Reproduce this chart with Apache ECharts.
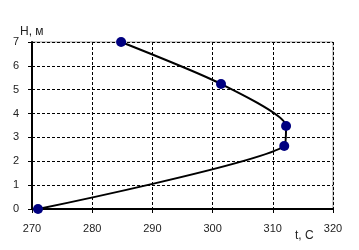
<!DOCTYPE html>
<html><head><meta charset="utf-8">
<script src="https://cdn.jsdelivr.net/npm/echarts@6/dist/echarts.min.js"></script>
<style>html,body{margin:0;padding:0;background:#fff}#c{width:359px;height:250px}</style>
</head><body><div id="c"></div>
<script>
const tempValues = [271, 311.9, 312.2, 301.4, 284.8];
const heightValues = [0, 2.64, 3.48, 5.24, 7];
const xTicks = [270, 280, 290, 300, 310, 320];
const yTicks = [0, 1, 2, 3, 4, 5, 6, 7];
const xName = 't, C';
const yName = 'H, м';

const points = tempValues.map((t, i) => [t, heightValues[i]]);
const chart = echarts.init(document.getElementById('c'), null, {renderer: 'canvas'});
const font = 'Arial, "Liberation Sans", sans-serif';
const xMax = xTicks[xTicks.length-1], yMax = yTicks[yTicks.length-1];
chart.setOption({
  animation: false,
  grid: {left: 32, right: 26, top: 42, bottom: 41, show: true, borderColor: '#999', borderWidth: 1, backgroundColor: '#fff'},
  xAxis: {
    type: 'value', min: xTicks[0], max: xMax, interval: 10,
    axisLine: {show: true, onZero: false, lineStyle: {color: '#000', width: 2}},
    axisTick: {show: true, length: 4, lineStyle: {color: '#000', width: 1}},
    axisLabel: {color: '#222', fontSize: 11, fontFamily: font, margin: 14},
    splitLine: {show: true, interval: (i, v) => Number(v) !== xMax && Number(v) !== xTicks[0], lineStyle: {color: '#000', type: [3, 2], width: 1}}
  },
  yAxis: {
    type: 'value', min: yTicks[0], max: yMax, interval: 1,
    axisLine: {show: true, onZero: false, lineStyle: {color: '#000', width: 2}},
    axisTick: {show: true, length: 4, lineStyle: {color: '#000', width: 1}},
    axisLabel: {color: '#222', fontSize: 11, fontFamily: font, margin: 13},
    splitLine: {show: true, interval: (i, v) => Number(v) !== yMax && Number(v) !== yTicks[0], lineStyle: {color: '#000', type: [3, 2], width: 1}}
  },
  graphic: [
    {type: 'text', left: 20, top: 26, style: {text: yName, font: '12px ' + font, fill: '#222'}},
    {type: 'text', left: 295, top: 230, style: {text: xName, font: '12px ' + font, fill: '#222'}}
  ],
  series: [{
    type: 'line', data: points, smooth: 0.22,
    symbol: 'circle', symbolSize: 10,
    itemStyle: {color: '#000080'},
    lineStyle: {color: '#000', width: 2},
    z: 5
  }]
});
</script></body></html>
